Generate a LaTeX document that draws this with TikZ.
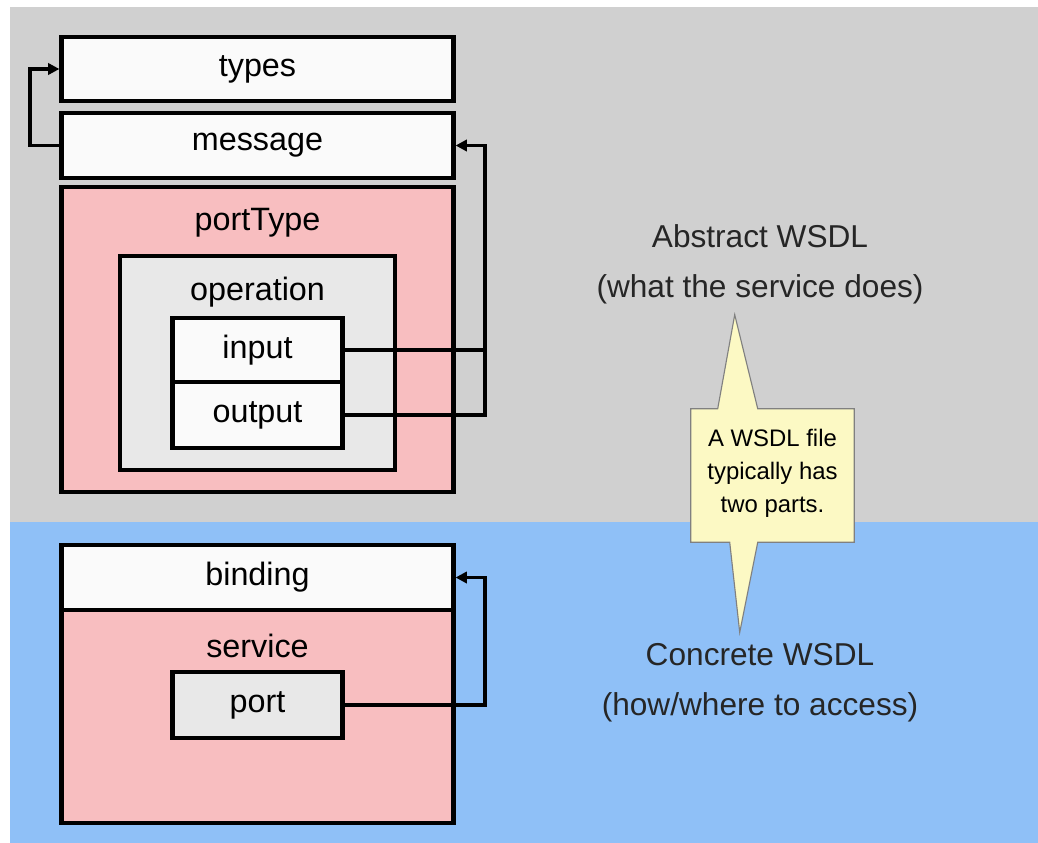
\documentclass[tikz,border=0pt]{standalone}
\usepackage{fontspec}
\setmainfont{Liberation Sans}
\usetikzlibrary{positioning}
\usetikzlibrary{arrows.meta}
\usetikzlibrary{calc}
\definecolor{abstractbg}{RGB}{208,208,208}
\definecolor{concretebg}{RGB}{143,192,247}
\definecolor{pinkfill}{RGB}{248,190,192}
\definecolor{opfill}{RGB}{232,232,232}
\definecolor{boxwhite}{RGB}{250,250,250}
\definecolor{notefill}{RGB}{252,249,196}
\tikzset{
    part/.style = {rectangle, line width=3pt, draw=black, inner sep=0pt, minimum width=9.8cm, fill=boxwhite, font=\fontsize{23}{27}\selectfont},
    subpart/.style = {part, minimum width=4.25cm},
    title/.style = {inner sep=0pt, font=\fontsize{23}{27}\selectfont},
    wire/.style = {line width=2.6pt},
    wirea/.style = {wire, -{Triangle[length=8pt,width=8pt]}},
    side/.style = {align=center, text=black!85, font=\fontsize{22.5}{35.5}\selectfont},
    note/.style = {fill=notefill, draw=black!50, line width=0.8pt},
    notetext/.style = {align=center, inner sep=0pt, font=\fontsize{17}{23.5}\selectfont}
}
\begin{document}
\begin{tikzpicture}
\useasboundingbox (0,0) rectangle (25.95,-21.075);
\fill[white] (0,0) rectangle (25.95,-21.075);
% the two halves
\fill[abstractbg] (0.25,-0.175) rectangle (25.95,-13.05);
\fill[concretebg] (0.25,-13.05) rectangle (25.95,-21.075);
%
% abstract part
\node[part, minimum height=1.6cm] at (6.4375, -1.725) (types) {types};
\node[part, minimum height=1.625cm] at (6.4375, -3.6375) (message) {message};
\node[part, fill=pinkfill, minimum height=7.625cm] at (6.4375, -8.4875) (porttype) {};
\node[title] at ([yshift=-0.95cm]porttype.north) (porttypet) {portType};
\node[part, fill=opfill, minimum width=6.875cm, minimum height=5.35cm] at (6.4375, -9.075) (operation) {};
\node[title] at ([yshift=-0.95cm]operation.north) (operationt) {operation};
\node[subpart, minimum height=1.6cm] at (6.4375, -8.75) (input) {input};
\node[subpart, minimum height=1.65cm] at (6.4375, -10.375) (output) {output};
%
% concrete part
\node[part, minimum height=1.625cm] at (6.4375, -14.4375) (binding) {binding};
\node[part, fill=pinkfill, minimum height=5.325cm] at (6.4375, -17.9125) (service) {};
\node[title] at ([yshift=-0.95cm]service.north) (servicet) {service};
\node[subpart, fill=opfill, minimum height=1.65cm] at (6.4375, -17.625) (port) {port};
%
% references between the parts
\coordinate (rrail) at (12.125, 0);
\coordinate (lrail) at (0.75, 0);
\draw[wirea] (message.west) -- (message.west -| lrail) |- (types.west);
\draw[wire] (input.east) -- (input.east -| rrail);
\draw[wirea] (output.east) -- (output.east -| rrail) |- (message.east);
\draw[wirea] (port.east) -- (port.east -| rrail) |- (binding.east);
%
\node[side] at (19.0, -6.6) (abstract) {Abstract WSDL\\(what the service does)};
\node[side] at (19.0, -17.06) (concrete) {Concrete WSDL\\(how/where to access)};
%
% callout pointing both ways
\node[minimum width=4.075cm, minimum height=3.325cm] at (19.3125, -11.8875) (note) {};
\path[note] (note.north west) -- ++(0.675,0) -- ++(0.425,2.35) -- ++(0.575,-2.35)
    -- (note.north east) -- (note.south east) -- ($(note.south west)+(1.675,0)$)
    -- ++(-0.45,-2.25) -- ++(-0.25,2.25) -- (note.south west) -- cycle;
\node[notetext] at ([yshift=0.05cm]note.center) (notet) {A WSDL file\\typically has\\two parts.};

\end{tikzpicture}
\end{document}
